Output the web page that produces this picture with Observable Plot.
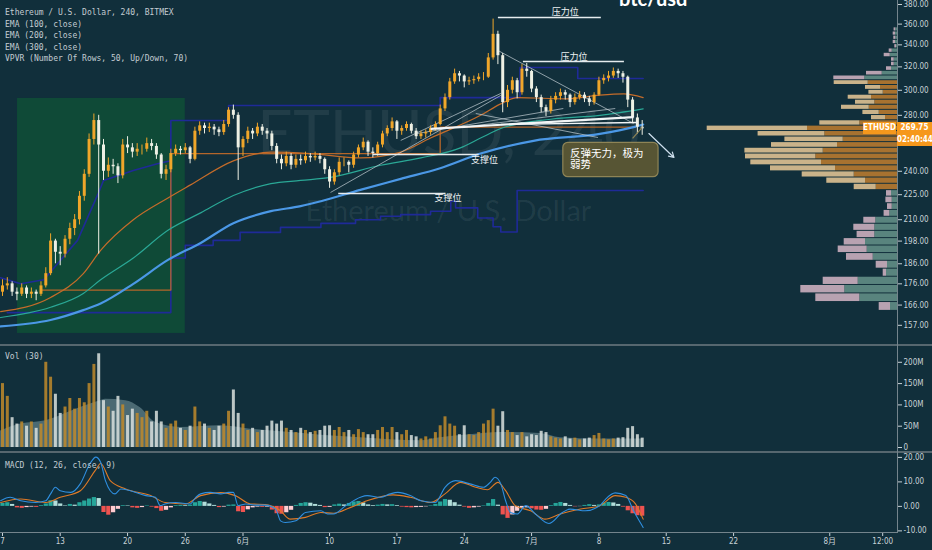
<!DOCTYPE html>
<html><head><meta charset="utf-8">
<script src="https://cdn.jsdelivr.net/npm/d3@7"></script>
<script src="https://cdn.jsdelivr.net/npm/@observablehq/plot@0.6"></script>
<style>
html,body{margin:0;padding:0;background:#112f3b;overflow:hidden}
#wrap{position:relative;width:932px;height:550px;background:#112f3b;overflow:hidden}
.abs{position:absolute}
.pane{position:absolute;left:0}
.wm{position:absolute;left:0;width:897px;text-align:center;font-family:Lato,"Open Sans",sans-serif;color:rgba(255,255,255,0.07);white-space:nowrap}
.lg{position:absolute;left:5px;font:8px/11.5px "DejaVu Sans Mono",monospace;color:#c3ccd2;white-space:pre}
.tag{position:absolute;height:12px;line-height:12px;background:#f6981c;color:#fff;font:bold 8px/12px "DejaVu Sans Condensed","DejaVu Sans",sans-serif;text-align:center}
</style></head>
<body><div id="wrap">
<div class="wm" style="top:100px;font-size:62px;line-height:62px">ETHUSD, 240</div>
<div class="wm" style="top:195px;font-size:29px;line-height:29px">Ethereum / U.S. Dollar</div>
</div>
<script>
// ---------- DATA ----------
const T0 = Date.UTC(2019, 4, 7);           // 7 May 2019, 12h candles from here
const day = d => new Date(T0 + d * 864e5);

const opens = [172,175,176,172,171,174,171,172,171,175,
181,198,192,191,199,205,210,224,238,262,
276,258,240,244,243,237,258,256,253,255,
255,259,257,251,238,241,252,255,254,256,
248,268,272,270,271,269,267,273,284,280,
256,262,268,266,271,268,266,257,248,245,
250,244,248,247,250,249,250,248,241,233,
239,246,246,244,251,256,260,253,252,258,
266,270,275,268,270,273,268,264,266,267,
270,273,285,294,307,314,312,307,308,309,
311,311,328,350,330,290,300,308,298,318,
316,301,294,286,283,292,295,298,296,290,
294,296,293,290,296,308,310,312,316,314,
311,292,278,271];
const highs = [178,179,177,174,176,175,174,173,177,184,
202,199,195,201,208,213,227,241,266,281,
280,262,249,248,245,262,264,259,259,258,
263,262,259,252,244,255,258,257,259,257,
271,275,274,274,273,271,276,286,288,282,
264,271,270,274,273,270,268,259,251,253,
252,251,251,253,252,253,252,249,243,241,
249,249,247,253,258,263,261,256,260,268,
272,278,276,272,275,274,270,268,269,272,
275,288,297,310,318,316,313,311,312,314,
315,332,365,353,332,304,311,310,322,323,
317,303,296,288,295,298,301,300,297,297,
299,298,295,298,311,313,316,319,318,316,
312,294,281,276];
const lows = [170,173,170,168,170,169,169,168,170,174,
180,186,185,189,196,201,207,221,236,258,
191,234,236,238,232,235,252,249,250,251,
253,254,248,235,234,239,250,251,252,245,
247,265,266,267,265,264,265,271,277,234,
250,259,262,264,265,262,254,245,241,243,
241,242,244,245,246,247,245,238,229,231,
237,243,239,242,249,254,250,249,250,256,
264,268,262,265,268,266,262,262,263,265,
268,272,283,292,305,307,302,304,305,307,
308,310,326,322,282,286,297,293,296,311,
298,290,282,279,281,289,292,292,286,288,
292,290,287,288,295,305,307,310,310,306,
286,274,266,265];
const closes = [175,176,172,171,174,171,172,171,175,181,
198,192,191,199,205,210,224,238,262,276,
258,240,244,243,237,258,256,253,255,255,
259,257,251,238,241,252,255,254,256,248,
268,272,270,271,269,267,273,284,280,256,
262,268,266,271,268,266,257,248,245,250,
244,248,247,250,249,250,248,241,233,239,
246,246,244,251,256,260,253,252,258,266,
270,275,268,270,273,268,264,266,267,270,
273,285,294,307,314,312,307,308,309,311,
311,328,350,330,290,300,308,298,318,316,
301,294,286,283,292,295,298,296,290,294,
296,293,290,296,308,310,312,316,314,311,
292,278,271,269.75];
// volume in millions
const volumes = [150,120,70,55,60,50,60,45,55,200,
165,125,80,95,115,90,115,105,150,195,
220,110,95,85,120,100,75,90,80,70,
85,60,85,60,45,55,62,45,40,50,
95,60,55,45,40,50,55,85,135,80,
55,40,45,35,40,50,62,55,62,45,
40,35,45,40,35,38,40,50,51,40,
47,35,40,30,42,35,30,30,40,47,
35,47,35,30,40,28,25,20,25,20,
35,51,72,55,50,30,51,30,28,35,
55,63,90,50,84,40,35,28,35,25,
30,28,38,35,25,22,20,25,20,22,
18,20,22,28,33,20,18,20,22,23,
45,49,30,22];
const macdHist = [1.2,1.5,0.8,-0.6,-0.8,-0.5,-0.3,-0.4,0.3,1.0,
2.3,2.2,1.0,0.2,0.8,0.5,1.5,2.2,3.0,3.6,
3.2,-2.5,-3.6,-2.6,-1.2,0.3,0.2,-0.6,-0.8,-0.5,
0.2,-0.3,-0.9,-2.0,-1.6,-0.6,0.3,0.4,0.3,0.5,
1.5,2.0,1.7,1.0,0.4,-0.5,-0.3,0.5,0.6,-2.2,
-2.5,-1.4,-0.6,-0.3,-0.4,-0.3,-1.5,-3.0,-3.2,-2.6,
-1.6,0.4,1.2,1.5,1.3,0.8,0.4,-0.5,-0.4,0.6,
0.9,0.6,1.2,1.8,2.0,1.4,0.6,0.3,0.5,0.8,
0.6,0.7,0.3,-0.3,-0.5,-0.6,-0.5,-0.4,-0.2,0.2,
0.8,1.8,2.8,2.5,1.5,0.5,-0.3,-0.8,-0.6,-0.3,
0.2,1.2,2.8,0.5,-3.5,-4.9,-3.5,-2.0,-0.8,-0.6,
-1.0,-1.5,-1.6,-1.2,0.3,1.2,1.6,1.2,0.4,-0.2,
-0.1,0.4,0.7,0.4,0.6,1.3,1.6,1.4,0.8,-0.3,
-1.8,-3.0,-3.8,-4.0];

// indicator lines: [day offset, value]
const ema100 = [[-0.2,163],[5.0,169.5],[8.4,181],[10.2,193],[13.6,210],[17.2,223],[19.5,231],[24.0,247],[27.9,253],[32.0,252],[37.2,249],[41.4,253],[44.5,263],[49.7,280],[51.8,289],[53.5,294],[58.7,293],[62.1,296],[64.6,297],[66.6,294]];
const ema200 = [[-0.2,160.4],[5.0,165],[8.4,171.4],[10.2,178],[13.6,189],[17.2,204],[20.6,214],[24.0,224.5],[27.9,232],[31.0,234],[34.1,236],[39.3,244],[43.5,249],[47.6,256],[49.7,263],[51.8,270],[57.0,277],[62.1,280],[66.6,285]];
const ema300 = [[-0.2,156.5],[5.0,159.3],[8.4,163.7],[10.2,166.7],[13.6,176],[17.2,188],[20.6,197],[24.0,208],[27.9,215],[31.0,218],[33.1,221],[37.2,228],[41.4,235],[45.5,242],[49.7,252],[55.2,261],[62.1,266],[65.6,271],[66.6,273]];
const navyRise = [[-0.2,179],[1.9,176],[4.3,178],[7.8,198.4],[9.9,225],[10.5,234],[13.6,240.5],[16.1,245],[17.5,247]];
const navyUpper = [[0.5,162.6],[17.5,276],[23.5,287.7],[45.5,294],[53.8,319.5],[59.8,309.9],[66.6,309.9]];
const navyLower = [[17.5,189],[19.0,195.7],[21.9,198.4],[24.7,202.8],[28.9,205.6],[33.1,207.9],[36.7,210],[39.3,212],[41.4,213],[44.5,215],[46.6,221],[47.1,217],[49.4,211],[51.0,206],[51.8,203],[53.5,227.6],[66.6,227.6]];
const pocLine = [[3.95,173],[17.5,252],[45.5,271],[65.8,271]];
const volMA = [[-0.2,39],[1.9,55],[4.5,63],[8.1,94],[10.2,110],[10.7,113],[12.8,110],[14.3,94],[15.9,59],[18.5,47],[22.7,51],[25.8,43],[29.9,35],[33.1,29],[37.2,23],[43.5,16],[45.5,23],[48.6,30],[51.8,35],[55.9,33],[58.0,23],[62.1,20],[66.5,20]];
const macdLine = [[-0.2,2.3],[0.8,3.7],[1.9,2.3],[3.4,1.6],[4.5,2.3],[5.0,5.1],[5.5,7.8],[6.0,6.4],[7.1,5.7],[8.1,9.3],[9.1,17.5],[9.7,20.1],[10.2,18],[10.7,10.5],[11.2,6.4],[11.7,5.1],[12.3,7.1],[13.3,6.4],[14.9,4.4],[15.9,3.7],[16.4,0.3],[16.9,1.0],[18.0,1.6],[19.5,1.0],[20.1,3.7],[20.6,5.1],[21.6,5.7],[22.7,5.1],[23.5,5.7],[24.0,5.7],[24.5,0.3],[25.3,1.0],[26.3,0.5],[27.3,0.5],[28.4,-1.1],[28.9,-5.9],[29.4,-6.6],[30.5,-5.9],[31.5,-2.5],[33.1,-1.8],[33.8,-3.1],[34.4,-3.1],[35.7,0.3],[37.2,3.7],[37.9,4.4],[39.3,3.7],[40.3,5.1],[41.1,5.7],[42.4,4.4],[43.5,2.3],[45.0,1.6],[46.0,7.8],[47.1,10.5],[48.6,9.2],[50.0,7.8],[50.7,9.8],[51.2,11.9],[51.8,9.2],[52.3,2.3],[52.8,-2.5],[53.5,-3.1],[54.4,0.3],[55.4,-3.1],[56.8,-7.0],[58.2,-2.5],[59.0,-1.1],[60.6,-1.8],[62.1,0.3],[62.7,3.0],[63.7,5.5],[64.8,4.4],[65.6,-1.8],[66.3,-6.6],[66.6,-8.6]];
const macdSignal = [[-0.2,1.6],[1.9,3.0],[4.5,1.6],[6.0,3.7],[8.1,6.4],[9.7,15],[10.2,17.5],[11.2,10.5],[12.8,7.1],[15.4,4.4],[16.9,1.6],[19.0,1.0],[20.6,4.4],[22.7,5.6],[24.2,4.4],[25.8,1.0],[27.3,0.8],[28.9,-1.8],[29.9,-5.2],[31.5,-4.5],[33.1,-2.5],[34.4,-2.8],[36.2,-0.4],[37.9,2.3],[40.6,4.7],[42.4,3.7],[44.5,1.6],[46.0,5.1],[47.6,9.8],[49.2,7.8],[50.4,6.8],[51.5,9.8],[52.3,6.4],[53.3,0.3],[54.9,-1.8],[56.4,-5.2],[58.0,-3.1],[60.1,-1.1],[62.1,0.3],[63.7,4.4],[64.8,3.7],[65.8,1.0],[66.6,-5.2]];

// volume profile (VPVR) rows from top to bottom
const vpTop = 356.8, vpStep = 4.03, vaFrom = 12, vaTo = 31;
const vpUp = [1.7,2.0,1.7,2.0,1.0,5.3,7.3,3.3,3.3,6,
15.3,32.7,29.3,17,14.3,26,22.7,28.3,18.3,12,
37.7,90,72.7,54.3,60,74.3,81.7,76,62,43.3,
32,21.3,6,5.3,5.3,7.7,21.7,22.7,22.7,32,
30.3,24.3,10,11,39.3,52.7,37.7,7];
const vpDown = [1.7,2.3,2,2.3,1.7,3,6,2.7,2.7,5,
15.7,31,34,15,14.3,23.3,19.3,27.7,16.3,14,
40,100.3,66.7,58.3,66,78.3,70.3,70.7,65,52,
38.7,22,5,6.3,4.7,5.7,12,21,17.7,21.3,
29,26.7,11.3,3.3,35,44,44,11.3];

// axes
const priceTicks = [157,166,176,186,198,210,225,240,260,280,300,320,340,360,380];
const volTicks = [0,50,100,150,200];
const macdTicks = [-10,0,10,20];
const xTickDays = [0,6,13,19,25,34,41,48,55,62,69,76,86,91.5];
const xTickLabels = ["7","13","20","26","6月","10","17","24","7月","8","15","22","8月","12:00"];
const lastPrice = 269.75;

// drawings
const greenBox = {d1:1.56, d2:19.0, lo:153.5, hi:293.3};
const srLines = [[51.5,62.2,366.6],[54.1,64.6,324.8],[38.5,49.5,251.4],[34.9,46.0,225.8]];
const srLabels = [{d:58.5,p:371.7,t:"压力位",a:"middle"},{d:59.4,p:328.7,t:"压力位",a:"middle"},{d:50.1,p:247.8,t:"支撑位",a:"start"},{d:46.3,p:222.9,t:"支撑位",a:"start"}];
const necklines = [[44.5,269.8,65.6,278.6,2.2],[51.8,273,66.0,274.5,1.3]];
const trendLines = [[34.1,226.4,51.8,295.8],[51.5,334.8,65.6,273.8],[49.2,281.4,61.9,263.4],[43.1,266.3,58.3,285.3],[47.6,270.8,63.7,285.3],[41.4,261.3,51.8,297.4]];
const callout = {d1:58.3, d2:68.2, lo:236.1, hi:259.6, tx:59.0, ty:248, text:"反弹无力，极为\n弱势"};
const pointer = [65.5,262.7,66.5,270.8];
const arrowLine = [67.2,266.3,69.8,249.3];

// ---------- CHART ----------
const xDomain = [day(-0.208), day(93.04)];
const FONT = "'DejaVu Sans Condensed','DejaVu Sans','Noto Sans CJK SC',sans-serif";
const baseStyle = {background:"transparent", color:"#c8d2d7", fontSize:"8px", fontFamily:FONT, overflow:"visible"};
const NAVY = "#1f2a98", UPC = "#f0a62a", DNC = "#eef0e4";
const P = a => day(a[0]), V = a => a[1];

const candles = closes.map((c,i)=>({t:day(i*0.5), o:opens[i], h:highs[i], l:lows[i], c, v:volumes[i], m:macdHist[i], pm:i?macdHist[i-1]:0}));
const isUp = d => d.c >= d.o;
const wrap = document.getElementById("wrap");
function place(node, top){ node.style.position="absolute"; node.style.left="0px"; node.style.top=top+"px"; wrap.appendChild(node); return node; }

const priceY = {type:"log", domain:[148.5,384.2]};
const pricePlot = Plot.plot({
  width:932, height:345, marginLeft:0, marginRight:35, marginTop:0, marginBottom:0,
  style:baseStyle,
  x:{type:"utc", domain:xDomain, axis:null},
  y:{...priceY, axis:"right", ticks:priceTicks, tickFormat:d=>d.toFixed(2), tickSize:4, tickPadding:2, label:null},
  color:{type:"identity"},
  marks:[
    Plot.rect([greenBox], {x1:d=>day(d.d1), x2:d=>day(d.d2), y1:"lo", y2:"hi", fill:"#0f4a37"}),
    Plot.line(navyRise, {x:P, y:V, stroke:NAVY, strokeWidth:1.6}),
    Plot.line(navyUpper, {x:P, y:V, stroke:NAVY, strokeWidth:1.6, curve:"step-after"}),
    Plot.line(navyLower, {x:P, y:V, stroke:NAVY, strokeWidth:1.6, curve:"step-after"}),
    Plot.line(pocLine, {x:P, y:V, stroke:"#b4662a", strokeWidth:1.3, curve:"step-after"}),
    Plot.line(ema300, {x:P, y:V, stroke:"#4b98e6", strokeWidth:2.2, curve:"monotone-x"}),
    Plot.line(ema200, {x:P, y:V, stroke:"#2aa896", strokeWidth:1.2, curve:"monotone-x"}),
    Plot.line(ema100, {x:P, y:V, stroke:"#c46c2a", strokeWidth:1.2, curve:"monotone-x"}),
    Plot.link(trendLines, {x1:P, y1:V, x2:a=>day(a[2]), y2:a=>a[3], stroke:"#c5d0d6", strokeOpacity:0.7, strokeWidth:1}),
    Plot.ruleX(candles, {x:"t", y1:"l", y2:"h", stroke:d=>isUp(d)?UPC:DNC, strokeWidth:1}),
    Plot.ruleX(candles, {x:"t", y1:"o", y2:"c", stroke:d=>isUp(d)?UPC:DNC, strokeWidth:3}),
    Plot.link(srLines, {x1:P, x2:a=>day(a[1]), y1:a=>a[2], y2:a=>a[2], stroke:"#e6ecee", strokeWidth:1.5}),
    Plot.link(necklines, {x1:P, y1:V, x2:a=>day(a[2]), y2:a=>a[3], stroke:"#f2f5f6", strokeWidth:a=>a[4]}),
    Plot.text(srLabels, {x:d=>day(d.d), y:"p", text:"t", textAnchor:d=>d.a, fill:"#eef2f3", fontSize:9, fontFamily:"Noto Sans CJK SC"}),
    Plot.link([pointer], {x1:P, y1:V, x2:a=>day(a[2]), y2:a=>a[3], stroke:"#8e8456", strokeWidth:1.2}),
    Plot.rect([callout], {x1:d=>day(d.d1), x2:d=>day(d.d2), y1:"lo", y2:"hi", fill:"#5c5834", fillOpacity:0.93, stroke:"#8e8456", strokeWidth:1.2, rx:5}),
    Plot.text([callout], {x:d=>day(d.tx), y:"ty", text:"text", textAnchor:"start", lineAnchor:"middle", lineHeight:1.05, fill:"#ffffff", fontSize:10.5, fontFamily:"Noto Sans CJK SC"}),
    Plot.arrow([arrowLine], {x1:P, y1:V, x2:a=>day(a[2]), y2:a=>a[3], stroke:"#cfe0ee", strokeWidth:1.2, headLength:7})
  ]
});
place(pricePlot, 0);

// volume profile overlay (own horizontal volume scale, same price scale)
const vpRows = vpUp.map((u,t)=>({hi:vpTop - t*vpStep, lo:vpTop-(t+1)*vpStep, up:u, dn:vpDown[t], va:t>=vaFrom && t<=vaTo}));
const vpPlot = Plot.plot({
  width:932, height:345, marginLeft:0, marginRight:35, marginTop:0, marginBottom:0,
  style:baseStyle,
  x:{domain:[0,897], reverse:true, axis:null},
  y:{...priceY, axis:null},
  color:{type:"identity"},
  marks:[
    Plot.rect(vpRows, {x1:d=>0, x2:"up", y1:"lo", y2:"hi", insetTop:0.5, insetBottom:0.5, fill:d=>d.va?"#b0762f":"#5e8982", fillOpacity:0.95}),
    Plot.rect(vpRows, {x1:"up", x2:d=>d.up+d.dn, y1:"lo", y2:"hi", insetTop:0.5, insetBottom:0.5, fill:d=>d.va?"#d5bb8e":"#c2a9b7", fillOpacity:0.95})
  ]
});
place(vpPlot, 0);

const volPlot = Plot.plot({
  width:932, height:107, marginLeft:0, marginRight:35, marginTop:0, marginBottom:5,
  style:baseStyle,
  x:{type:"utc", domain:xDomain, axis:null},
  y:{domain:[0,239.4], axis:"right", ticks:volTicks, tickFormat:d=>d===0?"0":d+"M", tickSize:4, tickPadding:2, label:null},
  color:{type:"identity"},
  marks:[
    Plot.areaY(volMA, {x:P, y:V, fill:"#9dbdc0", fillOpacity:0.42, curve:"monotone-x"}),
    Plot.ruleX(candles, {x:"t", y1:0, y2:"v", stroke:d=>isUp(d)?"#c08a2c":"#d9e0de", strokeOpacity:0.85, strokeWidth:3})
  ]
});
place(volPlot, 345);

const tickLabel = new Map(xTickDays.map((d,i)=>[+day(d), xTickLabels[i]]));
const histColor = d => d.m >= 0 ? (d.m >= d.pm ? "#26a69a" : "#b2dfdb") : (d.m < d.pm ? "#ef5350" : "#ffcdd2");
const macdPlot = Plot.plot({
  width:932, height:98, marginLeft:0, marginRight:35, marginTop:0, marginBottom:17,
  style:baseStyle,
  x:{type:"utc", domain:xDomain, ticks:xTickDays.map(day), tickFormat:d=>tickLabel.get(+d), tickSize:3, tickPadding:2, label:null},
  y:{domain:[-11.07,22], axis:"right", ticks:macdTicks, tickFormat:d=>d.toFixed(2), tickSize:4, tickPadding:2, label:null},
  color:{type:"identity"},
  marks:[
    Plot.ruleX(candles, {x:"t", y1:0, y2:"m", stroke:histColor, strokeWidth:4.2}),
    Plot.line(macdSignal, {x:P, y:V, stroke:"#e07a26", strokeWidth:1.1, curve:"monotone-x"}),
    Plot.line(macdLine, {x:P, y:V, stroke:"#2f8fe0", strokeWidth:1.1, curve:"monotone-x"})
  ]
});
place(macdPlot, 452);

// frame lines
function div(css, text){ const e=document.createElement("div"); e.className="abs"; e.style.cssText+=css; if(text!=null) e.textContent=text; wrap.appendChild(e); return e; }
div("left:0;top:344px;width:932px;height:2px;background:#56676f");
div("left:0;top:451px;width:932px;height:2px;background:#56676f");
div("left:897px;top:0;width:1px;height:533px;background:#74848c");
div("left:0;top:532px;width:897px;height:1px;background:#74848c");

// legends
const lg = div("", null); lg.className="lg"; lg.style.top="7px";
lg.textContent = "Ethereum / U.S. Dollar, 240, BITMEX\nEMA (100, close)\nEMA (200, close)\nEMA (300, close)\nVPVR (Number Of Rows, 50, Up/Down, 70)";
const lv = div("", "Vol (30)"); lv.className="lg"; lv.style.top="351px";
const lm = div("", "MACD (12, 26, close, 9)"); lm.className="lg"; lm.style.top="460px";

// last price tags positioned by the chart's own y scale
const ys = pricePlot.scale("y");
const yOf = v => (typeof ys.apply === "function") ? ys.apply(v) : d3.scaleLog(ys.domain, ys.range)(v);
const py = yOf(lastPrice);
const t1 = div(`left:863px;top:${py-6}px;width:33px;`, "ETHUSD"); t1.className="tag";
const t2 = div(`left:897px;top:${py-6}px;width:35px;`, lastPrice.toFixed(2)); t2.className="tag";
const t3 = div(`left:897px;top:${py+6}px;width:35px;`, "02:40:44"); t3.className="tag";

div("left:619px;top:-12px;font:bold 20px/20px Lato,'DejaVu Sans',sans-serif;color:#ffffff;white-space:nowrap", "btc/usd");
</script>
</body></html>
